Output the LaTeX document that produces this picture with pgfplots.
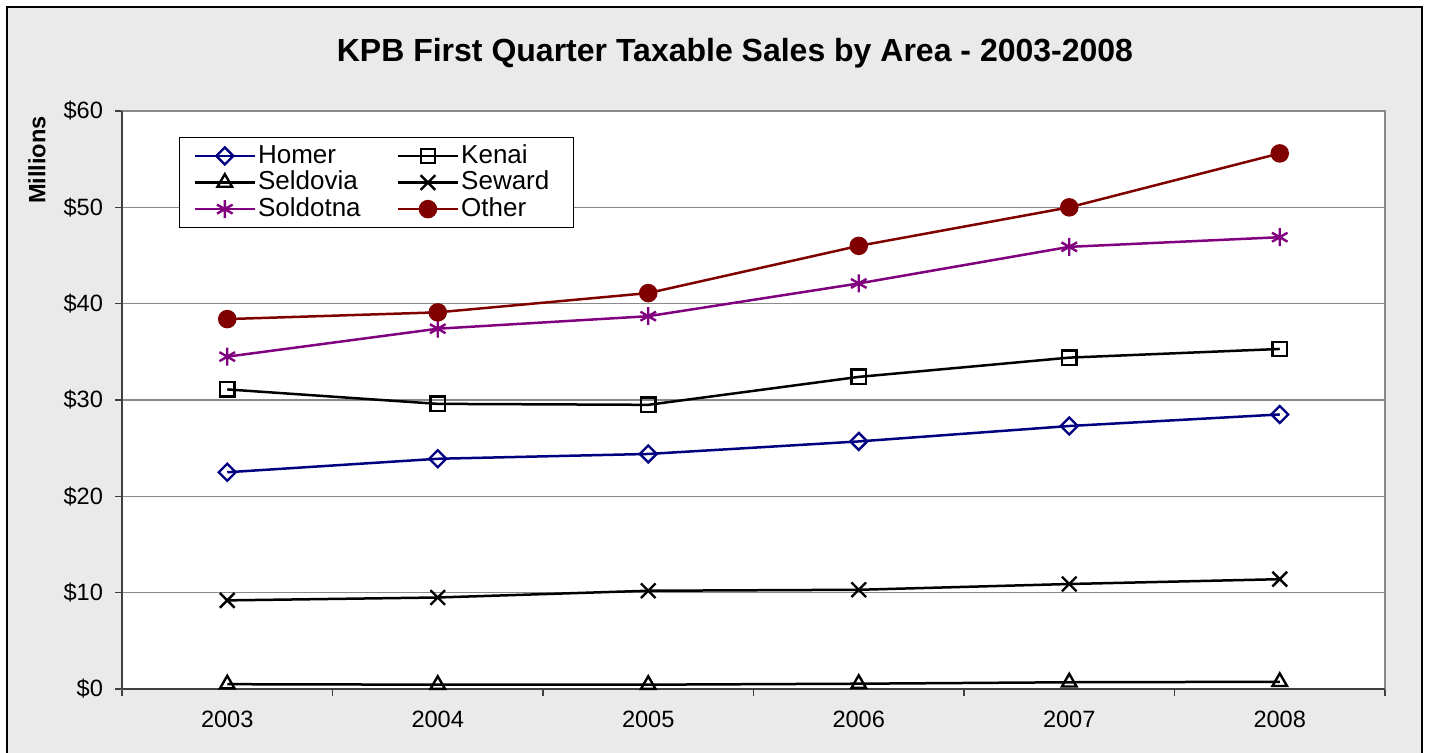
\documentclass[border=0pt]{standalone}
\usepackage{fontspec}
\setmainfont{Liberation Sans}
\usepackage{pgfplots}
\pgfplotsset{compat=1.18}
\definecolor{bg}{HTML}{EAEAEA}
\definecolor{homer}{HTML}{000080}
\definecolor{sold}{HTML}{800080}
\definecolor{other}{HTML}{800000}
\definecolor{gridc}{HTML}{8A8A8A}
\begin{document}
\begin{tikzpicture}[x=1pt,y=1pt]
\clip (0,0) rectangle (715,376);
\fill[white] (0,0) rectangle (715,376);
\filldraw[fill=bg, draw=black, line width=0.8pt] (3.5,-10) rectangle (711,372.5);
\node[font=\bfseries\fontsize{16}{19}\selectfont] at (367.5,349.5) {KPB First Quarter Taxable Sales by Area - 2003-2008};
\node[rotate=90, font=\bfseries\fontsize{11.8}{13}\selectfont] at (18.5,296) {Millions};
\begin{axis}[at={(61pt,31.5pt)}, anchor=south west, scale only axis,
  width=631.5pt, height=289pt,
  xmin=-0.5, xmax=5.5, ymin=0, ymax=60,
  axis background/.style={fill=white},
  axis line style={draw=gridc, line width=0.7pt},
  ytick={0,10,...,60},
  yticklabels={\$0,\$10,\$20,\$30,\$40,\$50,\$60},
  xtick={0,1,2,3,4,5},
  xticklabels={2003,2004,2005,2006,2007,2008},
  minor xtick={-0.5,0.5,...,5.5},
  xtick pos=lower, ytick pos=left,
  tick align=outside,
  major tick length=3.5pt, minor tick length=3.5pt,
  major x tick style={draw=none},
  minor x tick style={draw=black!75, line width=0.6pt},
  major y tick style={draw=black!75, line width=0.6pt},
  ymajorgrids, grid style={draw=gridc, line width=0.7pt},
  ticklabel style={font=\fontsize{11.8}{13}\selectfont},
  yticklabel style={xshift=-2.5pt},
  xticklabel style={yshift=-4pt},
  clip=false,
  every axis plot/.append style={line width=1.25pt},
  legend columns=2,
  legend cell align=left,
  legend style={at={(0.0451,0.955)}, anchor=north west, draw=black, line width=0.6pt,
    fill=white, inner xsep=7pt, inner ysep=2.5pt, row sep=0pt,
    font=\fontsize{13}{14}\selectfont,
    nodes={inner ysep=0.5pt, inner xsep=1pt, text height=9.7pt, text depth=2.6pt},
    /tikz/every even column/.append style={column sep=17pt},
    /tikz/column 4/.style={nodes={text width=48pt, align=left}}},
  legend image code/.code={\draw[mark repeat=2,mark phase=2,#1] plot coordinates {(0pt,0pt) (15pt,0pt) (30pt,0pt)};},
]
\addplot[color=homer, mark=square, mark size=3pt, mark options={fill=white, solid, rotate=45, line width=1.2pt}]
  coordinates {(0,22.5) (1,23.9) (2,24.4) (3,25.7) (4,27.3) (5,28.5)};
\addlegendentry{Homer}
\addplot[color=black, mark=square, mark size=3.6pt, mark options={fill=white, solid, line width=1.2pt}]
  coordinates {(0,31.1) (1,29.6) (2,29.5) (3,32.4) (4,34.4) (5,35.3)};
\addlegendentry{Kenai}
\addplot[color=black, mark=triangle, mark size=4.2pt, mark options={fill=white, solid, line width=1.2pt}]
  coordinates {(0,0.5) (1,0.45) (2,0.45) (3,0.55) (4,0.7) (5,0.75)};
\addlegendentry{Seldovia}
\addplot[color=black, mark=x, mark size=5.2pt, mark options={solid, line width=1.2pt}]
  coordinates {(0,9.2) (1,9.5) (2,10.2) (3,10.3) (4,10.9) (5,11.4)};
\addlegendentry{Seward}
\addplot[color=sold, mark=asterisk, mark size=4.5pt, mark options={solid, line width=1.2pt}]
  coordinates {(0,34.5) (1,37.4) (2,38.7) (3,42.1) (4,45.9) (5,46.9)};
\addlegendentry{Soldotna}
\addplot[color=other, mark=*, mark size=4pt, mark options={fill=other, solid}]
  coordinates {(0,38.4) (1,39.1) (2,41.1) (3,46.0) (4,50.0) (5,55.6)};
\addlegendentry{Other}
\draw[black!75, line width=0.8pt] (rel axis cs:0,0) -- (rel axis cs:0,1);
\draw[black!75, line width=0.8pt] (rel axis cs:0,0) -- (rel axis cs:1,0);
\end{axis}
\end{tikzpicture}
\end{document}
